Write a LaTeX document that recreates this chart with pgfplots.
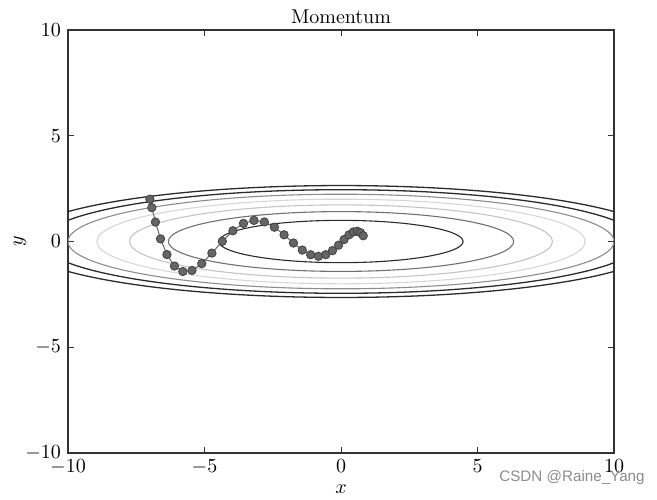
\documentclass[border=0pt]{standalone}
\usepackage{pgfplots}
\pgfplotsset{compat=1.18}
\usepackage{fontspec}
\newfontfamily\wmfont{Liberation Sans}

\definecolor{lvA}{HTML}{2B2B2B}
\definecolor{lvB}{HTML}{707070}
\definecolor{lvC}{HTML}{C4C4C4}
\definecolor{lvD}{HTML}{D6D6D6}
\definecolor{lvE}{HTML}{8C8C8C}
\definecolor{pathgray}{HTML}{666666}

\begin{document}
\begin{tikzpicture}
\path[use as bounding box] (-34pt,-23pt) rectangle (294.5pt,226.5pt);
\begin{axis}[
  at={(0,0)}, anchor=south west,
  scale only axis,
  width=273pt, height=211.5pt,
  xmin=-10, xmax=10, ymin=-10, ymax=10,
  xtick={-10,-5,0,5,10}, ytick={-10,-5,0,5,10},
  tick align=inside,
  major tick length=3pt,
  axis line style={black!80, line width=0.6pt},
  tick style={black!80, line width=0.5pt},
  title={Momentum},
  title style={yshift=-6.5pt},
  xlabel={$x$}, ylabel={$y$},
  xlabel style={yshift=1.5pt},
  ylabel style={at={(axis description cs:-0.088,0.5)}, anchor=center},
]
  % contour lines of f(x,y) = x^2/20 + y^2, levels 1..7
  \draw[lvA, line width=0.55pt] (axis cs:0,0) ellipse [x radius=4.472, y radius=1.000];
  \draw[lvB, line width=0.55pt] (axis cs:0,0) ellipse [x radius=6.325, y radius=1.414];
  \draw[lvC, line width=0.55pt] (axis cs:0,0) ellipse [x radius=7.746, y radius=1.732];
  \draw[lvD, line width=0.55pt] (axis cs:0,0) ellipse [x radius=8.944, y radius=2.000];
  \draw[lvE, line width=0.55pt] (axis cs:0,0) ellipse [x radius=10.000, y radius=2.236];
  \draw[lvA, line width=0.65pt] (axis cs:0,0) ellipse [x radius=10.954, y radius=2.449];
  \draw[lvA, line width=0.65pt] (axis cs:0,0) ellipse [x radius=11.832, y radius=2.646];

  % optimizer path
  \addplot[
    color=pathgray, line width=0.5pt,
    mark=*, mark size=2.1pt,
    mark options={fill=pathgray, draw=black!75, line width=0.4pt}
  ] coordinates {
    (-7.0000, 2.0000)
    (-6.9300, 1.6000)
    (-6.7977, 0.9200)
    (-6.6107, 0.1240)
    (-6.3762, -0.6172)
    (-6.1014, -1.1608)
    (-5.7931, -1.4179)
    (-5.4577, -1.3658)
    (-5.1013, -1.0456)
    (-4.7295, -0.5484)
    (-4.3476, 0.0088)
    (-3.9603, 0.5085)
    (-3.5723, 0.8566)
    (-3.1873, 0.9985)
    (-2.8089, 0.9265)
    (-2.4403, 0.6764)
    (-2.0841, 0.3161)
    (-1.7427, -0.0714)
    (-1.4180, -0.4059)
    (-1.1116, -0.6258)
    (-0.8248, -0.6985)
    (-0.5583, -0.6242)
    (-0.3130, -0.4326)
    (-0.0890, -0.1735)
    (0.1135, 0.0943)
    (0.2945, 0.3165)
    (0.4546, 0.4532)
    (0.5940, 0.4855)
    (0.7136, 0.4176)
    (0.8141, 0.2729)
  };
\end{axis}
\node[text=black!45, font=\wmfont\fontsize{7.6}{9}\selectfont] at (252pt,-12.5pt) {CSDN @Raine\_Yang};
\end{tikzpicture}
\end{document}
